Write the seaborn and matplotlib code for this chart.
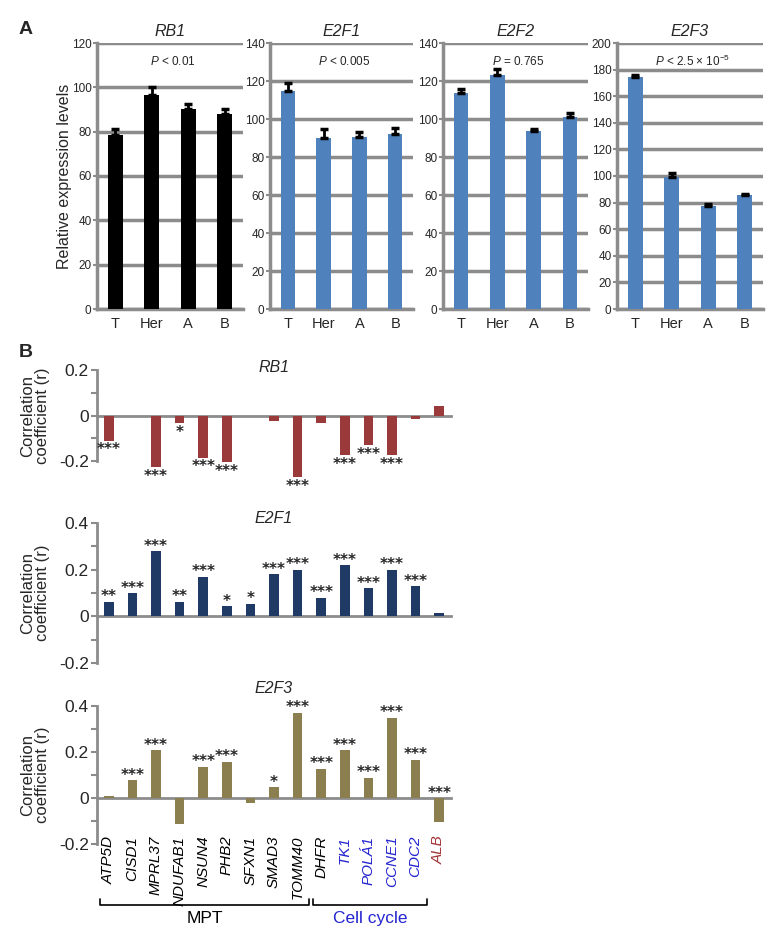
import seaborn as sns
import matplotlib.pyplot as plt
import matplotlib.transforms as mtransforms
import numpy as np

# Panel A - expresion relativa por grupo
groups = ["T", "Her", "A", "B"]
rb1_expr = [78.5, 96.5, 90.0, 88.0]
rb1_err = [2.5, 3.5, 2.3, 2.4]
e2f1_expr = [114.8, 90.0, 90.4, 92.0]
e2f1_err = [3.9, 4.5, 2.9, 3.2]
e2f2_expr = [113.8, 123.4, 93.5, 100.8]
e2f2_err = [1.8, 2.8, 1.0, 2.5]
e2f3_expr = [174.5, 99.5, 77.5, 85.5]
e2f3_err = [1.2, 2.5, 1.3, 1.0]
expr_titles = ["RB1", "E2F1", "E2F2", "E2F3"]
expr_pvals = ["$P$ < 0.01", "$P$ < 0.005", "$P$ = 0.765", "$P$ < 2.5 × 10$^{-5}$"]
expr_ymax = [120, 140, 140, 200]

# Panel B - coeficientes de correlacion
genes = ["ATP5D", "CISD1", "MPRL37", "NDUFAB1", "NSUN4", "PHB2", "SFXN1", "SMAD3",
         "TOMM40", "DHFR", "TK1", "POLÁ1", "CCNE1", "CDC2", "ALB"]
rb1_r = [-0.11, 0.0, -0.226, -0.034, -0.185, -0.206, 0.0, -0.023,
         -0.27, -0.034, -0.174, -0.131, -0.174, -0.014, 0.04]
rb1_stars = ["***", "", "***", "*", "***", "***", "", "", "***", "", "***", "***", "***", "", ""]
e2f1_r = [0.063, 0.10, 0.28, 0.063, 0.17, 0.043, 0.053, 0.18,
          0.20, 0.08, 0.22, 0.12, 0.20, 0.13, 0.014]
e2f1_stars = ["**", "***", "***", "**", "***", "*", "*", "***", "***", "***", "***", "***", "***", "***", ""]
e2f3_r = [0.007, 0.078, 0.207, -0.112, 0.136, 0.158, -0.022, 0.048,
          0.37, 0.128, 0.207, 0.088, 0.35, 0.167, -0.103]
e2f3_stars = ["", "***", "***", "", "***", "***", "", "*", "***", "***", "***", "***", "***", "***", "***"]
mpt_genes = genes[:9]
cycle_genes = genes[9:14]

sns.set_style("white")
plt.rcParams["font.family"] = ["Liberation Sans", "DejaVu Sans"]
plt.rcParams["mathtext.fontset"] = "custom"
plt.rcParams["mathtext.rm"] = "Liberation Sans"
plt.rcParams["mathtext.it"] = "Liberation Sans:italic"

GRAY = "#8c8c8c"
W, H = 781, 938
fig = plt.figure(figsize=(W / 100, H / 100), dpi=100)

def box(x0, y0, x1, y1):
    # pixeles (desde arriba) -> fracciones de figura
    return [x0 / W, 1 - y1 / H, (x1 - x0) / W, (y1 - y0) / H]

# ---------------- Panel A ----------------
a_boxes = [(97, 43, 243, 309), (270, 43, 413, 309), (443, 43, 588, 309), (617, 43, 763, 309)]
a_data = [(rb1_expr, rb1_err), (e2f1_expr, e2f1_err), (e2f2_expr, e2f2_err), (e2f3_expr, e2f3_err)]
a_colors = ["black", "#4f81bd", "#4f81bd", "#4f81bd"]

for i, (vals, errs) in enumerate(a_data):
    ax = fig.add_axes(box(*a_boxes[i]))
    sns.barplot(x=groups, y=vals, color=a_colors[i], width=0.4, errorbar=None,
                saturation=1, linewidth=0, ax=ax, zorder=3)
    ax.errorbar(range(len(groups)), vals, yerr=[np.zeros(len(errs)), errs], fmt="none",
                ecolor="black", elinewidth=2, capsize=3, capthick=2.5, zorder=4)
    ymax = expr_ymax[i]
    ax.set_ylim(0, ymax)
    ax.set_xlim(-0.5, 3.5)
    ax.set_yticks(np.arange(0, ymax + 1, 20))
    ax.yaxis.grid(True, color=GRAY, lw=2.5)
    ax.set_axisbelow(True)
    for s in ["top", "right"]:
        ax.spines[s].set_visible(False)
    for s in ["left", "bottom"]:
        ax.spines[s].set_color(GRAY)
        ax.spines[s].set_linewidth(2.5)
    ax.set_xticks(np.arange(-0.5, 4, 1), minor=True)
    ax.tick_params(axis="x", which="major", length=0, labelsize=10.5, pad=6)
    ax.tick_params(axis="x", which="minor", length=4, width=1.5, color=GRAY, direction="out")
    ax.tick_params(axis="y", length=3, width=1.5, color=GRAY, labelsize=8.5, pad=1, left=True)
    ax.set_xlabel("")
    ax.set_title(expr_titles[i], fontstyle="italic", fontsize=11.5, pad=5)
    ax.text(0.52, 0.93, expr_pvals[i], transform=ax.transAxes, ha="center", va="center", fontsize=8.5)

fig.text(65 / W, 1 - 176 / H, "Relative expression levels", rotation=90,
         ha="center", va="center", fontsize=11.5)
fig.text(26 / W, 1 - 30 / H, "A", fontsize=14, fontweight="bold", ha="center", va="center")

# ---------------- Panel B ----------------
b_boxes = [(97, 370, 451, 461), (97, 523, 451, 663), (97, 706, 451, 844)]
b_data = [(rb1_r, rb1_stars), (e2f1_r, e2f1_stars), (e2f3_r, e2f3_stars)]
b_colors = ["#9b3a3a", "#1f3a64", "#8b7f50"]
b_titles = ["RB1", "E2F1", "E2F3"]
b_ylims = [(-0.2, 0.2), (-0.2, 0.4), (-0.2, 0.4)]
b_title_y = [367, 518, 688]

label_colors = {g: "black" for g in genes}
for g in cycle_genes[1:]:
    label_colors[g] = "#2424d0"
label_colors["ALB"] = "#a3343a"

for i, (vals, stars) in enumerate(b_data):
    ax = fig.add_axes(box(*b_boxes[i]))
    sns.barplot(x=genes, y=vals, color=b_colors[i], width=0.4, errorbar=None,
                saturation=1, linewidth=0, ax=ax, zorder=3)
    for p in ax.patches:
        p.set_clip_on(False)  # barras que pasan de -0.2
    lo, hi = b_ylims[i]
    ax.set_ylim(lo, hi)
    ax.set_xlim(-0.5, len(genes) - 0.5)
    ax.set_yticks(np.arange(lo, hi + 0.01, 0.2))
    ax.set_yticklabels(["0" if abs(t) < 1e-9 else f"{t:.1f}" for t in np.arange(lo, hi + 0.01, 0.2)])
    ax.set_yticks(np.arange(lo, hi + 0.01, 0.1), minor=True)
    for s in ["top", "right"]:
        ax.spines[s].set_visible(False)
    ax.spines["left"].set_color(GRAY)
    ax.spines["left"].set_linewidth(2)
    ax.spines["bottom"].set_position(("data", 0))
    ax.spines["bottom"].set_color(GRAY)
    ax.spines["bottom"].set_linewidth(2)
    ax.set_xticks(np.arange(-0.5, len(genes), 1), minor=True)
    ax.tick_params(axis="x", which="major", length=0, labelbottom=False)
    ax.tick_params(axis="x", which="minor", length=3, width=1.5, color=GRAY, direction="out")
    ax.tick_params(axis="y", which="both", length=4, width=1.5, color=GRAY, direction="out",
                   labelsize=12.5, pad=2, left=True)
    ax.set_xlabel("")

    # asteriscos de significancia
    for k, (v, st) in enumerate(zip(vals, stars)):
        if not st:
            continue
        if v >= 0 or genes[k] == "ALB":
            ax.text(k, max(v, 0) + 0.002, st, ha="center", va="baseline", fontsize=11,
                    family="DejaVu Sans", fontweight="bold", clip_on=False)
        else:
            ax.text(k, v - 0.06, st, ha="center", va="baseline", fontsize=11,
                    family="DejaVu Sans", fontweight="bold", clip_on=False)

    cy = (b_boxes[i][1] + b_boxes[i][3]) / 2
    fig.text(35 / W, 1 - cy / H, "Correlation\ncoefficient (r)", rotation=90,
             ha="center", va="center", fontsize=12, linespacing=1.05)
    fig.text(274 / W, 1 - b_title_y[i] / H, b_titles[i], fontstyle="italic",
             ha="center", va="center", fontsize=11.5)

# etiquetas de genes y corchetes en la ultima fila
trans = mtransforms.blended_transform_factory(ax.transData, ax.transAxes)
for k, g in enumerate(genes):
    ax.text(k, 0.06, g, rotation=90, ha="center", va="top", fontstyle="italic",
            fontsize=11, color=label_colors[g], transform=trans)

yb = -0.445
for (x0, x1), name, col in [((-0.37, 8.5), "MPT", "black"), ((8.65, 13.5), "Cell cycle", "#2424d0")]:
    ax.plot([x0, x0, x1, x1], [yb + 0.05, yb, yb, yb + 0.05], color="black", lw=1.2,
            transform=trans, clip_on=False)
    ax.text((x0 + x1) / 2, yb - 0.04, name, ha="center", va="top", fontsize=12.5,
            color=col, transform=trans)

fig.text(26 / W, 1 - 352 / H, "B", fontsize=14, fontweight="bold", ha="center", va="center")

plt.savefig("out.png", dpi=100)
